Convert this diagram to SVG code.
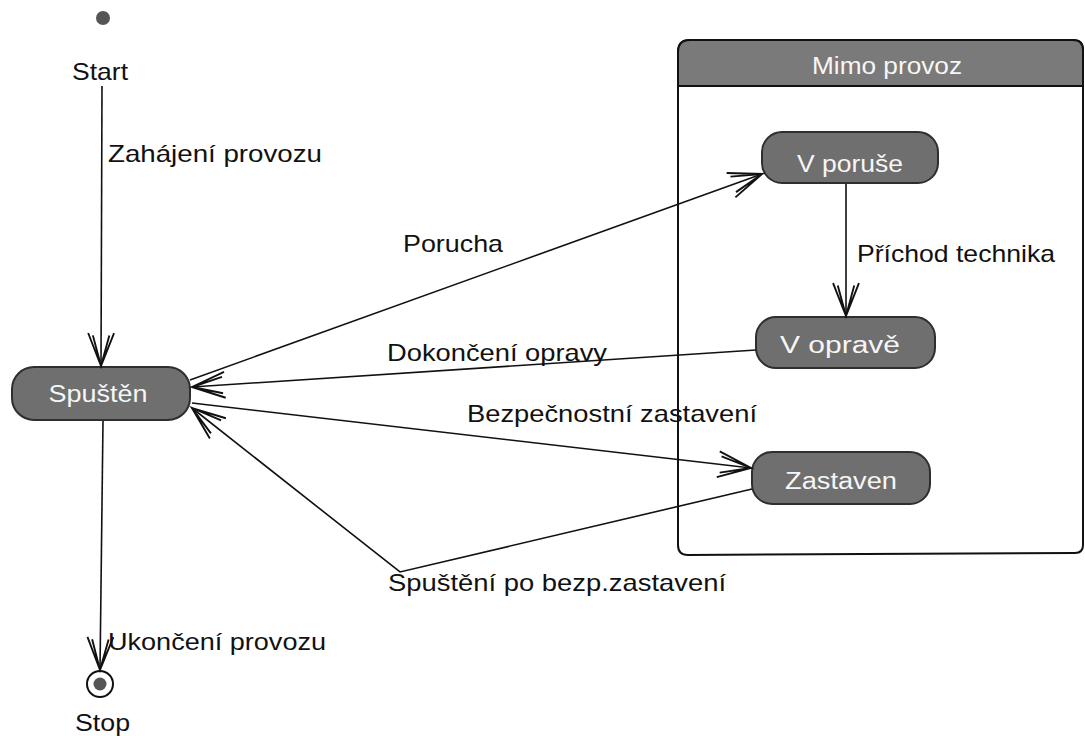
<svg xmlns="http://www.w3.org/2000/svg" width="1085" height="736" viewBox="0 0 1085 736">
  <style>
    .state { fill: #6f6f6f; stroke: #2e2e2e; stroke-width: 2; }
    .stateText { font-family: "Liberation Sans", Arial, sans-serif; font-size: 23px; fill: #f6f6f6; text-anchor: middle; }
    .label { font-family: "Liberation Sans", Arial, sans-serif; font-size: 24px; fill: #111; }
    .edge { fill: none; stroke: #111; stroke-width: 1.6; }
    .frame { fill: #ffffff; stroke: #111; stroke-width: 2; }
    .frameHead { fill: #7a7a7a; stroke: #111; stroke-width: 2; }
  </style>
  <defs>
    <!-- open UML transition arrowhead with doubled arms -->
    <marker id="open" markerUnits="userSpaceOnUse" orient="auto" refX="0" refY="0"
            markerWidth="40" markerHeight="40" viewBox="-32 -16 34 32" overflow="visible">
      <path d="M -28 -11 L 0 0 L -28 11 M -26 -7 L 0 0 L -26 7" fill="none" stroke="#111" stroke-width="1.6"/>
    </marker>
  </defs>

  <rect x="0" y="0" width="1085" height="736" fill="#ffffff"/>

  <!-- composite state -->
  <g id="mimo-provoz">
    <path class="frame" d="M 678 52 Q 678 40 690 40 L 1073 40 Q 1083 40 1083 50 L 1083 545 Q 1083 553 1075 553 L 688 555 Q 678 555 678 545 Z"/>
    <path class="frameHead" d="M 678 86 L 678 52 Q 678 40 690 40 L 1073 40 Q 1083 40 1083 50 L 1083 86 Z"/>
    <text class="stateText" x="887" y="74" font-size="22" textLength="150" lengthAdjust="spacingAndGlyphs">Mimo provoz</text>
  </g>

  <!-- pseudo states -->
  <g id="start">
    <circle cx="103" cy="18" r="7" fill="#555"/>
    <text class="label" x="72" y="80" textLength="56" lengthAdjust="spacingAndGlyphs">Start</text>
  </g>
  <g id="stop">
    <circle cx="100" cy="684" r="13" fill="#fff" stroke="#111" stroke-width="2"/>
    <circle cx="100" cy="684" r="6.5" fill="#555"/>
    <text class="label" x="75" y="731" textLength="55" lengthAdjust="spacingAndGlyphs">Stop</text>
  </g>

  <!-- states -->
  <g id="spusten">
    <rect class="state" x="12" y="367" width="178" height="53" rx="22"/>
    <text class="stateText" x="98" y="402" textLength="99" lengthAdjust="spacingAndGlyphs">Spuštěn</text>
  </g>
  <g id="v-poruse">
    <rect class="state" x="762" y="132" width="176" height="51" rx="20"/>
    <text class="stateText" x="850" y="172" textLength="106" lengthAdjust="spacingAndGlyphs">V poruše</text>
  </g>
  <g id="v-oprave">
    <rect class="state" x="756" y="317" width="179" height="51" rx="20"/>
    <text class="stateText" x="840" y="353" textLength="120" lengthAdjust="spacingAndGlyphs">V opravě</text>
  </g>
  <g id="zastaven">
    <rect class="state" x="752" y="452" width="178" height="52" rx="20"/>
    <text class="stateText" x="841" y="489" textLength="112" lengthAdjust="spacingAndGlyphs">Zastaven</text>
  </g>

  <!-- transitions -->
  <g id="connectors">
    <line class="edge" x1="102" y1="86" x2="101" y2="366" marker-end="url(#open)"/>
    <line class="edge" x1="103" y1="421" x2="100" y2="670" marker-end="url(#open)"/>
    <line class="edge" x1="190" y1="380" x2="762" y2="174" marker-end="url(#open)"/>
    <line class="edge" x1="846" y1="184" x2="846" y2="316" marker-end="url(#open)"/>
    <line class="edge" x1="756" y1="350" x2="192" y2="387" marker-end="url(#open)"/>
    <line class="edge" x1="192" y1="403" x2="751" y2="468" marker-end="url(#open)"/>
    <polyline class="edge" points="752,489 400,572 192,408" marker-end="url(#open)"/>
  </g>

  <!-- transition labels -->
  <g id="labels">
    <text class="label" x="108" y="162" textLength="214" lengthAdjust="spacingAndGlyphs">Zahájení provozu</text>
    <text class="label" x="403" y="252" textLength="100" lengthAdjust="spacingAndGlyphs">Porucha</text>
    <text class="label" x="857" y="262" textLength="198" lengthAdjust="spacingAndGlyphs">Příchod technika</text>
    <text class="label" x="387" y="361" textLength="220" lengthAdjust="spacingAndGlyphs">Dokončení opravy</text>
    <text class="label" x="467" y="422" textLength="290" lengthAdjust="spacingAndGlyphs">Bezpečnostní zastavení</text>
    <text class="label" x="388" y="591" textLength="338" lengthAdjust="spacingAndGlyphs">Spuštění po bezp.zastavení</text>
    <text class="label" x="108" y="650" textLength="218" lengthAdjust="spacingAndGlyphs">Ukončení provozu</text>
  </g>
</svg>
